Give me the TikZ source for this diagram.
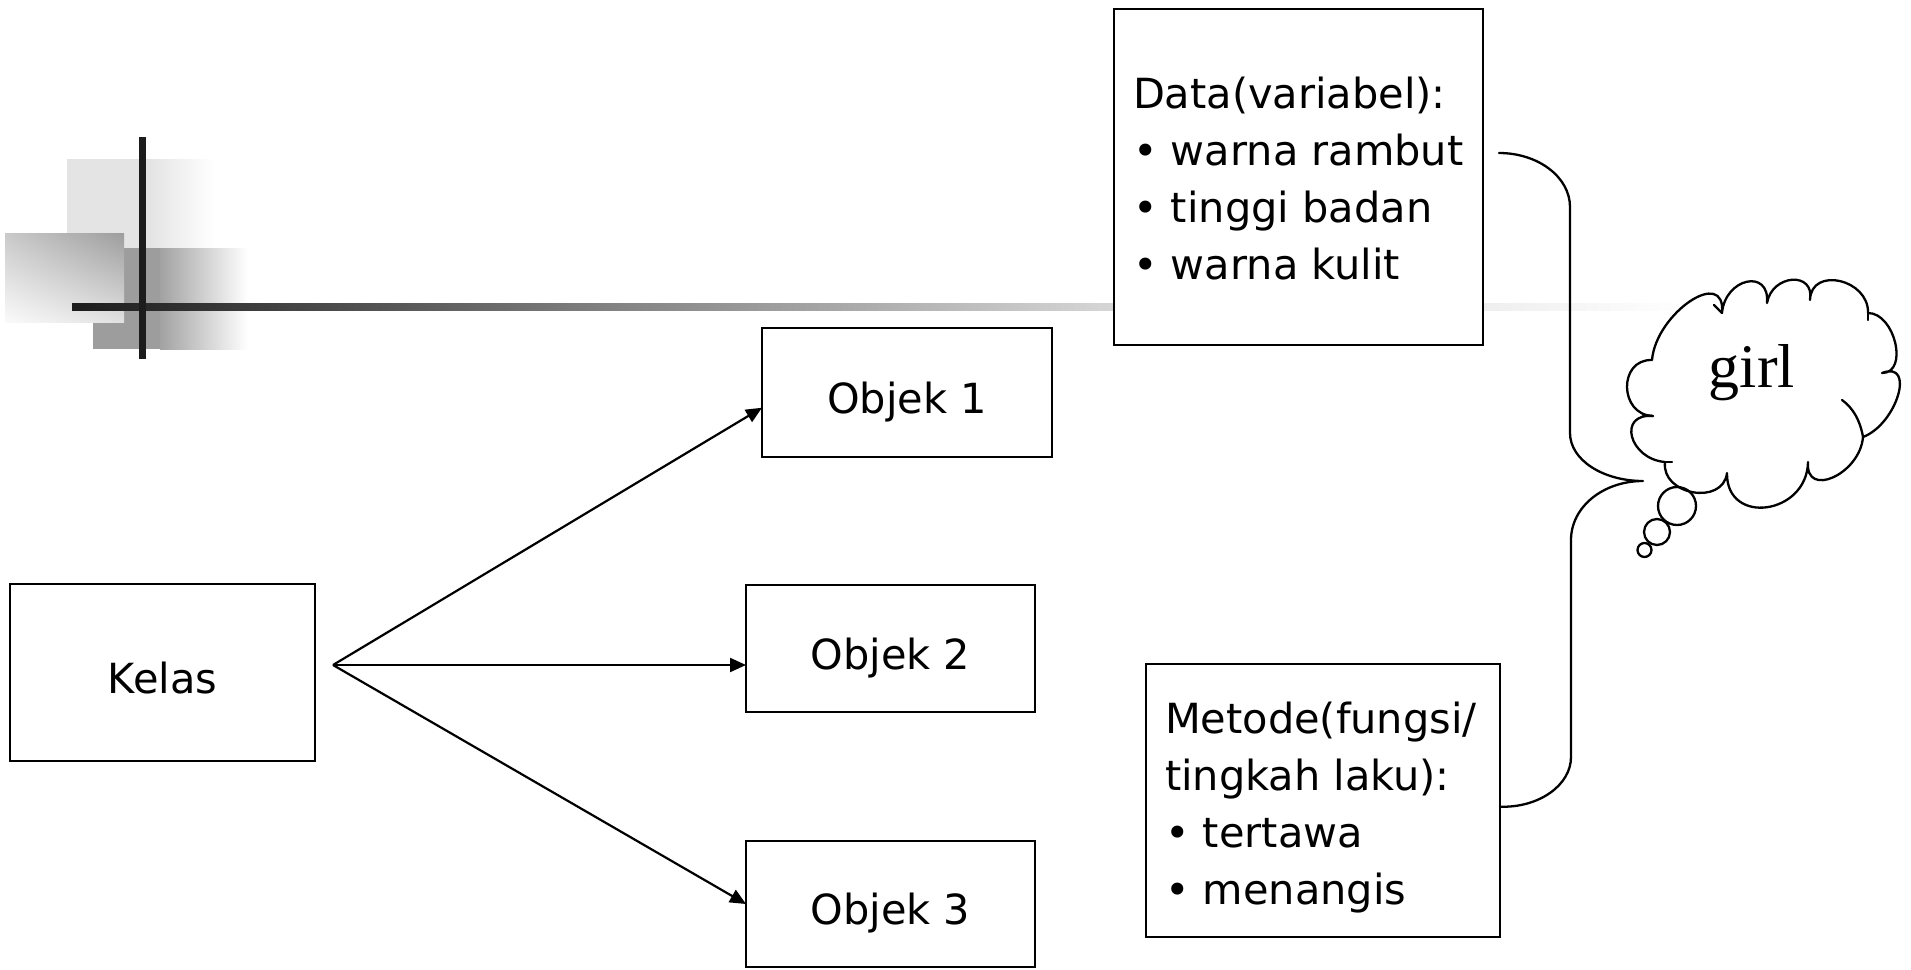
\documentclass[tikz,border=0pt]{standalone}
\usepackage{fontspec}
\setmainfont{DejaVu Sans}
\newfontfamily\girlfont{Liberation Serif}
\usetikzlibrary{arrows.meta,calc,shadings}
\definecolor{barc}{HTML}{1C1C1C}
\definecolor{gA}{HTML}{1C1C1C}
\definecolor{gB}{HTML}{585858}
\definecolor{gC}{HTML}{808080}
\definecolor{gD}{HTML}{D4D4D4}
\definecolor{gE}{HTML}{EEEEEE}
\definecolor{lightsq}{HTML}{E4E4E4}
\definecolor{darksq}{HTML}{9D9D9D}
\begin{document}
\begin{tikzpicture}[x=1pt,y=-1pt,
  box/.style={draw=black, line width=2.6pt, fill=white, inner sep=0pt, outer sep=0pt,
    font=\fontsize{41.5}{57}\selectfont, text height=41pt, text depth=0pt},
  frame/.style={draw=black, line width=2.6pt, fill=white, inner sep=0pt, outer sep=0pt},
  arr/.style={line width=2.2pt, -{Triangle[length=16pt,width=14pt]}},
  txt/.style={inner sep=0pt, outer sep=0pt, anchor=north west, align=left,
    font=\fontsize{41.5}{57}\selectfont},
  curve/.style={line width=2.3pt, line cap=round, line join=round}]
\useasboundingbox (0,0) rectangle (1911,969);
\fill[white] (0,0) rectangle (1911,969);

% decorative squares
\fill[lightsq] (67,159) rectangle (150,248);
\shade[left color=lightsq, right color=white] (150,159) rectangle (214,248);
\fill[darksq] (93,248) rectangle (160,349);
\shade[left color=darksq!95!white, right color=white] (160,248) rectangle (248,349);
\shade[upper left=black!21, upper right=darksq, lower left=black!2, lower right=black!12] (5,233) rectangle (124,322);

% bars
\shade[left color=gA, right color=gB] (72,303) rectangle (400.5,310);
\shade[left color=gB, right color=gC] (400,303) rectangle (600.5,310);
\shade[left color=gC, right color=gD] (600,303) rectangle (1100.5,310);
\shade[left color=gD, right color=gE] (1100,303) rectangle (1480.5,310);
\shade[left color=gE, right color=white] (1480,303) rectangle (1690,310);
\fill[barc] (139,137) rectangle (146,359);

% boxes
\node[box, minimum width=305pt, minimum height=177pt] (kelas) at (162.5,672.5) {Kelas};
\node[box, minimum width=290pt, minimum height=129pt] (objek1) at (907,392.5) {Objek 1};
\node[box, minimum width=289pt, minimum height=127pt] (objek2) at (890.5,648.5) {Objek 2};
\node[box, minimum width=289pt, minimum height=126pt] (objek3) at (890.5,904) {Objek 3};
\node[frame, minimum width=369pt, minimum height=336pt] (data) at (1298.5,177) {};
\node[frame, minimum width=354pt, minimum height=273pt] (metode) at (1323,800.5) {};

\node[txt] (datatext) at (1133,77) {Data(variabel):\\
\makebox[38pt][l]{•}warna rambut\\
\makebox[38pt][l]{•}tinggi badan\\
\makebox[38pt][l]{•}warna kulit};
\node[txt] (metodetext) at (1165,702) {Metode(fungsi/\\
tingkah laku):\\
\makebox[38pt][l]{•}tertawa\\
\makebox[38pt][l]{•}menangis};

% arrows
\coordinate (fork) at (333,665);
\draw[arr] (fork) -- (objek1.186.5);
\draw[arr] (fork) -- (fork -| objek2.west);
\draw[arr] (fork) -- (objek3.west);

% brace
\coordinate (bracetop) at (1499,153);
\draw[curve] (bracetop) .. controls (1538,153) and (1570,177) .. (1570,207)
  -- (1570,433) .. controls (1570,460) and (1603,481) .. (1643,481)
  coordinate (bracetip)
  .. controls (1603,481) and (1571,507) .. (1571,540)
  -- (1571,757) .. controls (1571,785) and (1539,808) .. (metode.-2.4);

% cloud
\draw[curve, fill=white] (1652,360) .. controls (1656,313) and (1726,266) .. (1722,313)
 .. controls (1725,278) and (1770,268) .. (1767,303)
 .. controls (1772,274) and (1815,271) .. (1810,300)
 .. controls (1811,266) and (1869,279) .. (1868,313)
 .. controls (1895,313) and (1909,373) .. (1882,373)
 .. controls (1916,360) and (1897,424) .. (1863,437)
 .. controls (1860,474) and (1805,499) .. (1808,462)
 .. controls (1807,515) and (1726,526) .. (1727,473)
 .. controls (1723,506) and (1661,495) .. (1665,462)
 .. controls (1629,459) and (1617,413) .. (1653,416)
 .. controls (1619,415) and (1618,359) .. (1652,360) -- cycle;
\draw[curve] (1842,400) .. controls (1853,408) and (1860,420) .. (1863,437);
\draw[curve] (1714,305) -- (1722,313);
\draw[curve] (1653,416) -- (1643,415);
\draw[curve] (1665,462) -- (1672,462);
\draw[curve] (1868,313) -- (1868,320);
\node[inner sep=0pt, anchor=base, font=\girlfont\fontsize{62}{62}\selectfont] (girl) at (1752,387) {girl};

% bubbles
\draw[curve] (1677,506) circle[radius=19];
\draw[curve] (1657,532) circle[radius=13];
\draw[curve] (1644.5,550) circle[radius=7];
\end{tikzpicture}
\end{document}
